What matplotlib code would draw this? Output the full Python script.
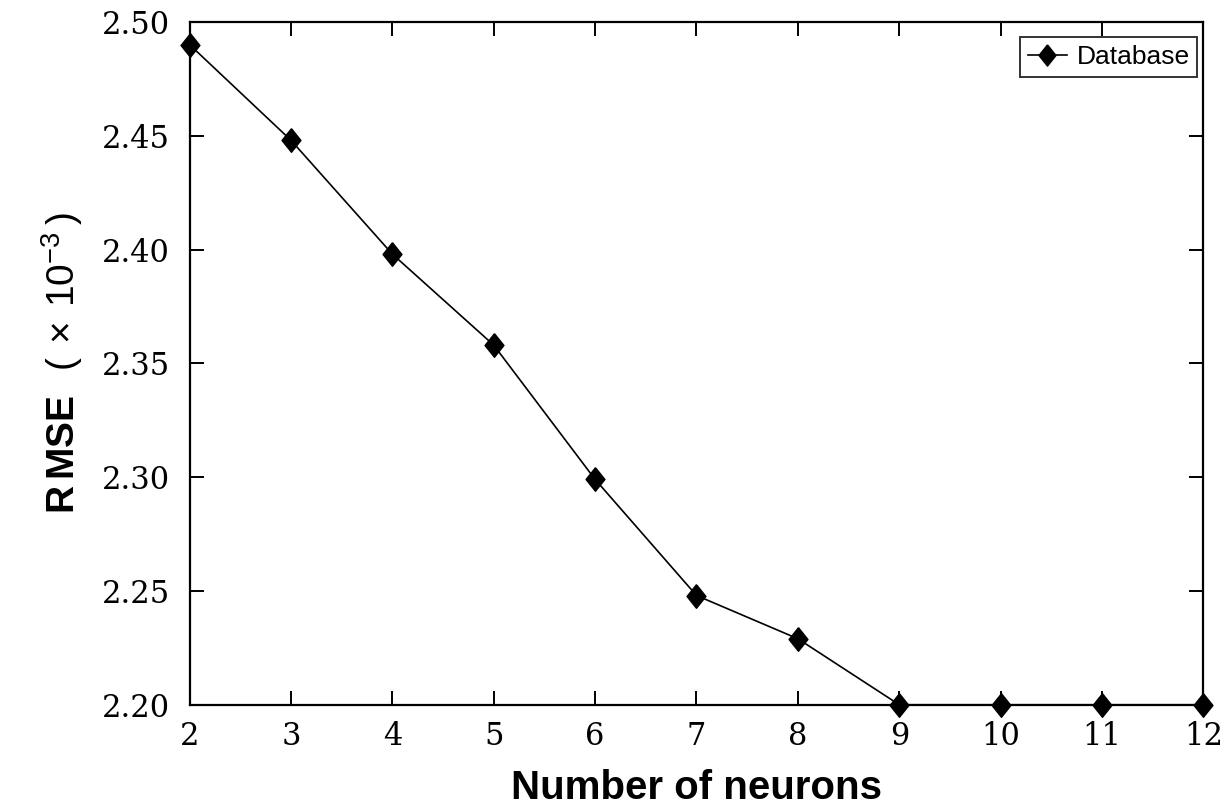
import matplotlib
matplotlib.use("Agg")
import matplotlib.pyplot as plt

neurons = [2, 3, 4, 5, 6, 7, 8, 9, 10, 11, 12]
rmse = [2.490, 2.448, 2.398, 2.358, 2.299, 2.248, 2.229, 2.200, 2.200, 2.200, 2.200]
yticks = [2.20, 2.25, 2.30, 2.35, 2.40, 2.45, 2.50]

plt.rcParams['mathtext.fontset'] = 'custom'
plt.rcParams['mathtext.rm'] = 'Liberation Sans'
plt.rcParams['mathtext.bf'] = 'Liberation Sans:bold'

fig = plt.figure(figsize=(12.23, 8.11), dpi=100)
ax = fig.add_axes([0.155, 0.131, 0.829, 0.842])

diamond = [(0, 1), (0.8, 0), (0, -1), (-0.8, 0), (0, 1)]
ax.plot(neurons, rmse, color='black', lw=1.2, marker=diamond, markersize=17,
        markerfacecolor='black', markeredgecolor='black', label='Database',
        clip_on=False, zorder=3)

ax.set_xlim(2, 12)
ax.set_ylim(2.20, 2.50)
ax.set_xticks(neurons)
ax.set_yticks(yticks)
ax.set_yticklabels([f"{v:.2f}" for v in yticks])
ax.tick_params(direction='in', length=10, width=1.4, top=True, right=True,
               labelsize=22)
ax.tick_params(axis='x', pad=12)
ax.tick_params(axis='y', pad=14)
for lab in ax.get_xticklabels() + ax.get_yticklabels():
    lab.set_fontfamily('DejaVu Serif')
for s in ax.spines.values():
    s.set_linewidth(1.6)

ax.set_xlabel('Number of neurons', fontsize=29, fontweight='bold',
              fontfamily='Liberation Sans', labelpad=12)
ax.set_ylabel(r'$\mathbf{R\,MSE}\ \ (\,\times\,10^{-3}\,)$', fontsize=28,
              fontfamily='Liberation Sans', labelpad=12)

leg = ax.legend(loc='upper right', bbox_to_anchor=(1 - 6/1013, 1 - 15/683),
                prop={'family': 'Liberation Sans', 'size': 19},
                frameon=True, fancybox=False, edgecolor='black', handlelength=1.5,
                borderpad=0.3, handletextpad=0.35, borderaxespad=0.0,
                markerscale=0.9)
leg.get_frame().set_linewidth(1.4)

fig.savefig('out.png', dpi=100)
